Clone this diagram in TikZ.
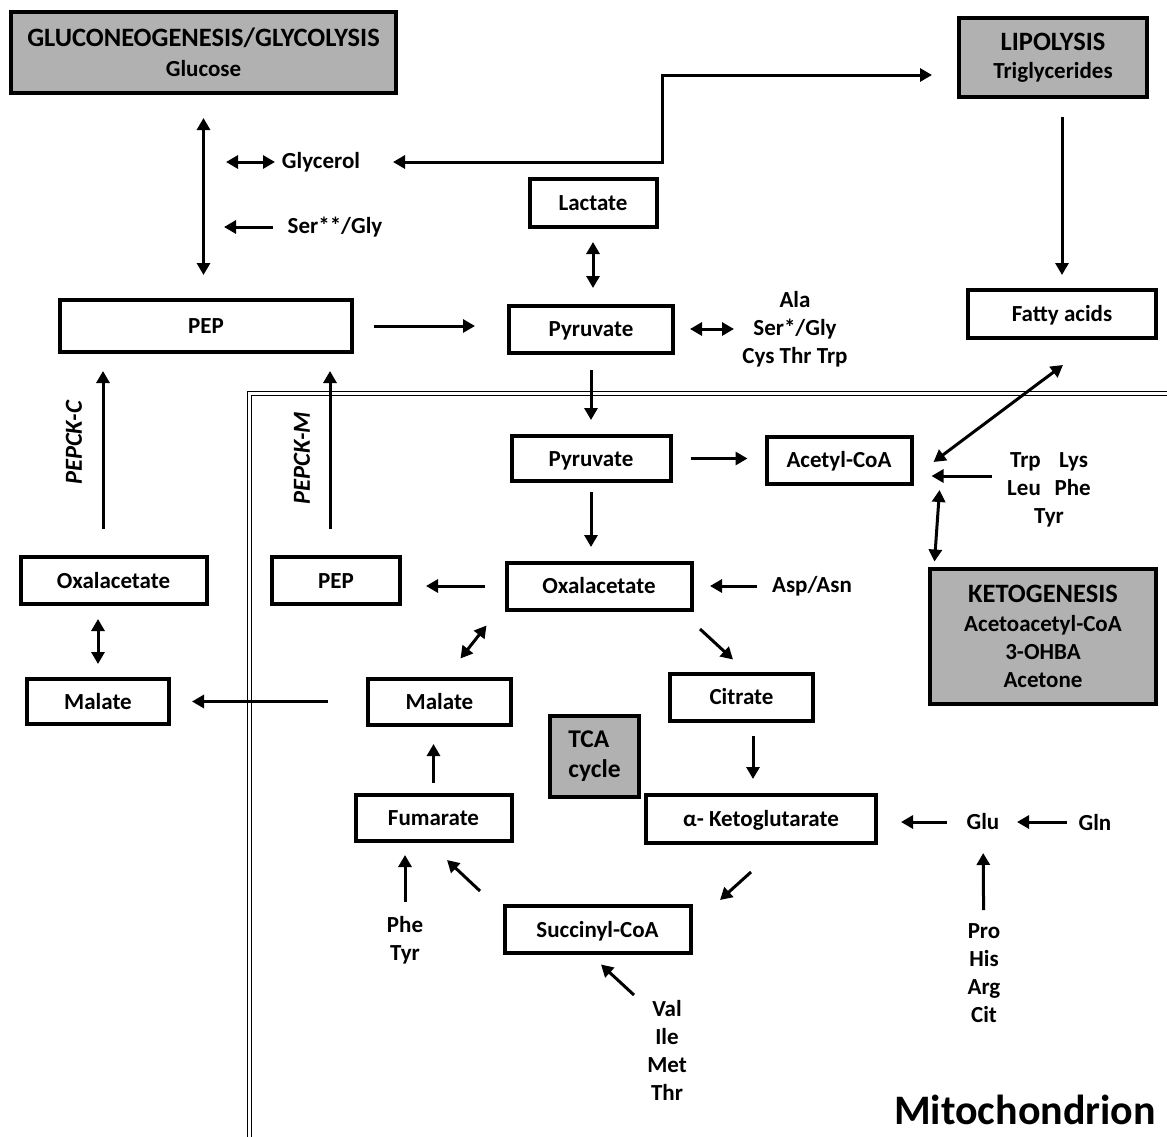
\documentclass[tikz,border=0pt]{standalone}
\usepackage{fontspec}
\setmainfont{Carlito}
\usetikzlibrary{arrows.meta,positioning,calc}
\definecolor{boxfill}{HTML}{B1B1B1}

\begin{document}
\begin{tikzpicture}[x=1pt,y=-1pt,
  font=\fontsize{23}{28}\selectfont\bfseries,
  met/.style={draw,line width=4pt,inner sep=0pt,align=center},
  one/.style={met,text height=17pt,text depth=2pt},
  pathway/.style={met,fill=boxfill},
  wh/.style 2 args={minimum width=#1pt,minimum height=#2pt},
  lbl/.style={inner sep=1pt,align=center},
  enz/.style={font=\fontsize{24.5}{28}\selectfont\bfseries\itshape,rotate=90},
  arr/.style={-{Triangle[length=12pt,width=13pt]},line width=3pt},
  dbl/.style={{Triangle[length=12pt,width=13pt]}-{Triangle[length=12pt,width=13pt]},line width=3pt},
  gap/.style 2 args={shorten <=#1pt,shorten >=#2pt},
  wall/.style={draw,line width=1.4pt,double distance=2.6pt}]

\useasboundingbox (0,0) rectangle (1167,1136);

% mitochondrial membrane
\draw[wall] (1190,393.5) -- (249.5,393.5) -- (249.5,1160);
\node[font=\fontsize{42}{48}\selectfont\bfseries] (mito) at (1025,1110) {Mitochondrion};

% pathways
\node[pathway,wh={385}{81}] (gluco) at (203.5,52.5)
  {{\fontsize{26.5}{30}\selectfont GLUCONEOGENESIS/GLYCOLYSIS}\\[2pt]Glucose};
\node[pathway,wh={188}{79}] (lipo) at (1053,57.5)
  {{\fontsize{26.5}{30}\selectfont LIPOLYSIS}\\Triglycerides};
\node[pathway,wh={226}{135}] (keto) at (1043,636)
  {{\fontsize{26.5}{30}\selectfont KETOGENESIS}\\[1pt]Acetoacetyl-CoA\\3-OHBA\\Acetone};
\node[pathway,wh={89}{81},align=left,font=\fontsize{25.5}{30}\selectfont\bfseries] (tca) at (594.5,756.5) {TCA\\cycle};

% metabolites
\node[one,wh={127}{48}] (lact) at (593,202.5) {Lactate};
\node[one,wh={292}{52}] (pep)  at (206,326) {PEP};
\node[one,wh={164}{47}] (pyr)  at (591,329) {Pyruvate};
\node[one,wh={188}{48}] (fatty) at (1062,314) {Fatty acids};
\node[one,wh={159}{45}] (pyrm) at (591,458.5) {Pyruvate};
\node[one,wh={145}{47}] (acoa) at (839,460) {Acetyl-CoA};
\node[one,wh={186}{47}] (oaac) at (113.5,580.5) {Oxalacetate};
\node[one,wh={128}{47}] (pepm) at (336,580.5) {PEP};
\node[one,wh={185}{47}] (oaam) at (599,586) {Oxalacetate};
\node[one,wh={142}{45}] (malc) at (98,701.5) {Malate};
\node[one,wh={143}{46}] (malm) at (439.5,701.5) {Malate};
\node[one,wh={143}{47}] (citr) at (741.5,697) {Citrate};
\node[one,wh={156}{46}] (fum)  at (433.5,817.5) {Fumarate};
\node[one,wh={230}{48}] (akg)  at (761,819) {α- Ketoglutarate};
\node[one,wh={186}{47}] (scoa) at (597.5,929.5) {Succinyl-CoA};

% free labels
\node[lbl] (glyc) at (321,162) {Glycerol};
\node[lbl] (ser)  at (335,227) {Ser**/Gly};
\node[lbl] (aa1)  at (795,329) {Ala\\Ser*/Gly\\Cys Thr Trp};
\node[lbl] (aa2)  at (1049,490) {Trp\hspace{0.8em}Lys\\Leu\hspace{0.6em}Phe\\Tyr};
\node[lbl] (asp)  at (812,586) {Asp/Asn};
\node[lbl] (glu)  at (983,822) {Glu};
\node[lbl] (gln)  at (1095,822) {Gln};
\node[lbl] (aa3)  at (984,973) {Pro\\His\\Arg\\Cit};
\node[lbl] (aa4)  at (405,940) {Phe\\Tyr};
\node[lbl] (aa5)  at (667,1050) {Val\\Ile\\Met\\Thr};
\node[enz] (pepckc) at (74,443) {PEPCK-C};
\node[enz] (pepckm) at (302,458) {PEPCK-M};

\coordinate (glycl)  at (226,162);
\coordinate (serl)   at (224,227);
\coordinate (lipoin) at (959,75);

% cytosol
\draw[dbl,gap={23}{23}] (gluco.south) -- (gluco.south |- pep.north);
\draw[dbl,gap={0}{46}] (glycl) -- (glyc.center);
\draw[arr,gap={62}{0}] (ser.center) -- (serl);
\draw[dbl,gap={72}{27}] (glyc.center) -- ++(341,0) |- (lipoin);
\draw[arr,gap={18}{13}] (lipo.south -| fatty.north) -- (fatty.north);
\draw[dbl,gap={13.5}{15.5}] (lact.south) -- (lact.south |- pyr.north);
\draw[arr,gap={20}{32}] (pep.east) -- (pep.east -| pyr.west);
\draw[dbl,gap={15}{61}] (pyr.east) -- (pyr.east -| aa1.center);
\draw[arr] ($(oaac.north)+(-10.5,-26)$) -- ($(pep.south)+(-103,17)$);
\draw[dbl,gap={13}{13}] (malc.north) -- (malc.north |- oaac.south);
\draw[arr,gap={38}{21}] (malm.west) -- (malm.west -| malc.east);

% mitochondrion
\draw[arr,gap={15.5}{14}] (pyr.south) -- (pyrm.north);
\draw[arr,gap={18}{17}] (pyrm.east) -- (pyrm.east -| acoa.west);
\draw[dbl] ($(fatty.south)+(1,25)$) -- ($(acoa.east)+(20,2)$);
\draw[arr] ($(aa2.center)+(-57,-14)$) -- ($(acoa.east)+(18,16)$);
\draw[dbl] ($(acoa.east)+(26,30)$) -- ($(keto.north west)+(6.5,-5)$);
\draw[arr,gap={9}{13.5}] (pyrm.south) -- (pyrm.south |- oaam.north);
\draw[arr,gap={19.5}{24}] (oaam.west) -- (oaam.west -| pepm.east);
\draw[arr,gap={55}{16.5}] (asp.center) -- (asp.center -| oaam.east);
\draw[arr] ($(pepm.north)+(-6,-26)$) -- ($(pep.south)+(124,17)$);
\draw[dbl] ($(oaam.south west)+(-18,14)$) -- ($(malm.north)+(21,-18)$);
\draw[arr] ($(oaam.south east)+(6.5,17.5)$) -- ($(citr.north)+(-8.5,-12)$);
\draw[arr] ($(citr.south)+(11.5,13)$) -- ($(akg.north)+(-8,-14)$);
\draw[arr] ($(akg.south)+(-10,27)$) -- ($(scoa.north east)+(27.5,-4)$);
\draw[arr] ($(scoa.north west)+(-22.5,-13)$) -- ($(fum.south)+(13.5,17.5)$);
\draw[arr,gap={9.5}{17.5}] (fum.north) -- (fum.north |- malm.south);
\draw[arr,gap={38}{12.5}] (aa4.center) -- (aa4.center |- fum.south);
\draw[arr] ($(aa5.center)+(-33,-55)$) -- ($(scoa.south)+(3.5,9.5)$);
\draw[arr,gap={36}{23}] (glu.center) -- (glu.center -| akg.east);
\draw[arr,gap={28}{34}] (gln.center) -- (glu.center);
\draw[arr,gap={63}{31}] (aa3.center) -- (glu.center);
\end{tikzpicture}
\end{document}
